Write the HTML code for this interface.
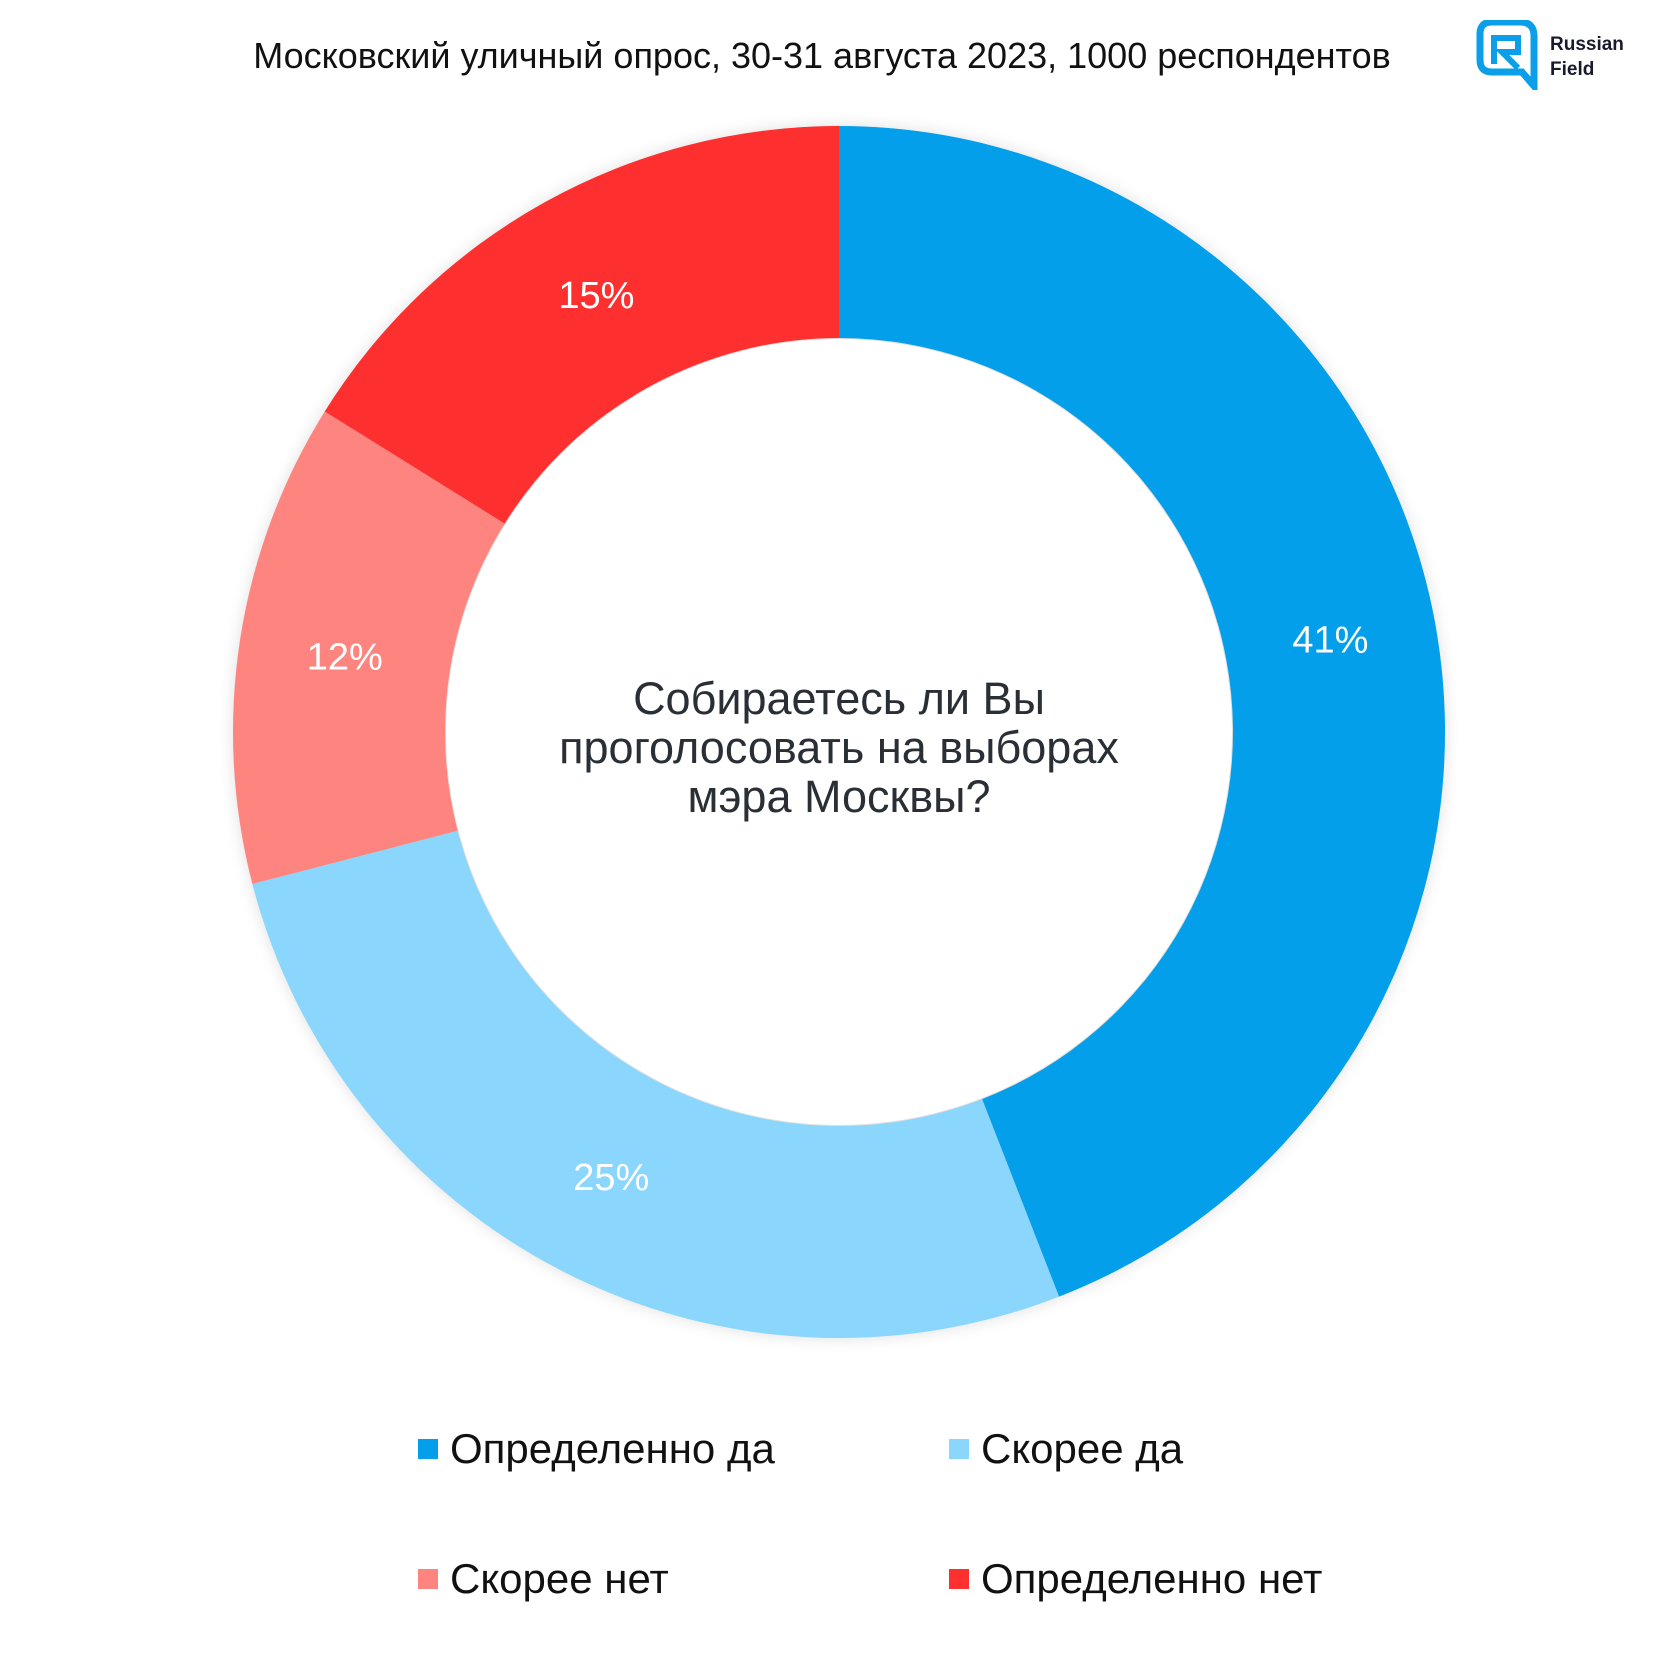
<!DOCTYPE html>
<html><head><meta charset="utf-8"><style>
body{margin:0;width:1680px;height:1680px;background:#fff;font-family:"Liberation Sans","DejaVu Sans",sans-serif;overflow:hidden;position:relative}
.t{position:absolute}
</style></head><body>
<div class="t" style="left:-18px;width:1680px;top:35px;text-align:center;font-size:36px;color:#111">Московский уличный опрос, 30-31 августа 2023, 1000 респондентов</div>
<svg class="t" style="left:1476px;top:20px" width="200" height="70">
<path d="M4 14 Q4 2 16 2 L44 2 Q58 2 58 16 L58 66 L46 52 L16 52 Q4 52 4 40 Z" fill="none" stroke="#0a9fe8" stroke-width="7"/>
<path d="M18 44 L18 18 L42 18 L42 32 L26 32 L42 48" fill="none" stroke="#0a9fe8" stroke-width="6"/>
<text x="74" y="30" font-size="19" font-weight="bold" fill="#1a1a2e" font-family="Liberation Sans">Russian</text>
<text x="74" y="55" font-size="19" font-weight="bold" fill="#1a1a2e" font-family="Liberation Sans">Field</text>
</svg>
<svg id="chart" class="t" style="left:0;top:0" width="1680" height="1400">
<defs><filter id="sh" x="-10%" y="-10%" width="120%" height="120%"><feGaussianBlur stdDeviation="8"/></filter></defs>
<circle cx="839" cy="732" r="606" fill="#000" opacity="0.12" filter="url(#sh)"/>
<g id="slices"></g>
<circle cx="839" cy="732" r="393" fill="#fff"/>
<g id="labels"></g>
<text x="839" y="714" text-anchor="middle" font-size="45" fill="#2a2f36"><tspan x="839">Собираетесь ли Вы</tspan><tspan x="839" dy="49">проголосовать на выборах</tspan><tspan x="839" dy="49">мэра Москвы?</tspan></text>
</svg>
<div id="legend"></div>
<script>
const categories=["Определенно да","Скорее да","Скорее нет","Определенно нет"];
const values=[41,25,12,15];
const colors=["#039fea","#8ad6fd","#fe857f","#fe2f2f"];
const cx=839,cy=732,R=606,r0=394,rl=500;
const total=values.reduce((a,b)=>a+b,0);
const g=document.getElementById('slices');
const gl=document.getElementById('labels');
const ns="http://www.w3.org/2000/svg";
function pt(a,r){return [cx+r*Math.sin(a),cy-r*Math.cos(a)];}
let a=0;
values.forEach((v,i)=>{
 const a1=a+v/total*2*Math.PI;
 const [x1,y1]=pt(a,R),[x2,y2]=pt(a1,R),[x3,y3]=pt(a1,r0),[x4,y4]=pt(a,r0);
 const lg=(a1-a)>Math.PI?1:0;
 const p=document.createElementNS(ns,'path');
 p.setAttribute('d',`M${x1} ${y1}A${R} ${R} 0 ${lg} 1 ${x2} ${y2}L${x3} ${y3}A${r0} ${r0} 0 ${lg} 0 ${x4} ${y4}Z`);
 p.setAttribute('fill',colors[i]);
 
 
 g.appendChild(p);
 const [lx,ly]=pt((a+a1)/2,rl);
 const t=document.createElementNS(ns,'text');
 t.setAttribute('x',lx);t.setAttribute('y',ly+13);
 t.setAttribute('text-anchor','middle');t.setAttribute('font-size','38');t.setAttribute('fill','#fff');
 t.textContent=v+'%';
 
 
 gl.appendChild(t);
 a=a1;
});
const pos=[[418,1425],[949,1425],[418,1555],[949,1555]];
const lg=document.getElementById('legend');
categories.forEach((c,i)=>{
 const d=document.createElement('div');
 d.className='t';
 d.style.cssText=`left:${pos[i][0]}px;top:${pos[i][1]}px;font-size:42px;color:#111;display:flex;align-items:center;white-space:nowrap`;
 d.innerHTML=`<span style="display:inline-block;width:20px;height:20px;background:${colors[i]};margin-right:12px"></span>${c}`;
 
 
 lg.appendChild(d);
});
</script>
</body></html>
